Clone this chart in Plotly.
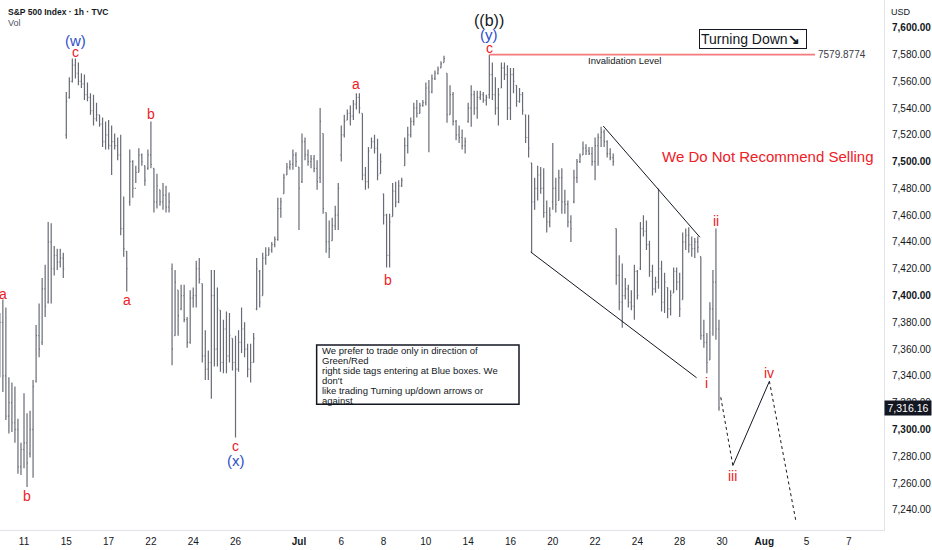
import plotly.graph_objects as go

# trading days shown on the chart (Jun 9 only contributes its last hourly bar)
trading_days = ["Jun 9", "Jun 10", "Jun 11", "Jun 12", "Jun 15", "Jun 16", "Jun 17", "Jun 18",
                "Jun 22", "Jun 23", "Jun 24", "Jun 25", "Jun 26", "Jun 29", "Jun 30", "Jul 1",
                "Jul 2", "Jul 6", "Jul 7", "Jul 8", "Jul 9", "Jul 10", "Jul 13", "Jul 14",
                "Jul 15", "Jul 16", "Jul 17", "Jul 20", "Jul 21", "Jul 22", "Jul 23", "Jul 24",
                "Jul 27", "Jul 28", "Jul 29"]
future_days = ["Jul 30", "Jul 31", "Aug 3", "Aug 4", "Aug 5", "Aug 6", "Aug 7"]

tick_days = ["Jun 11", "Jun 15", "Jun 17", "Jun 22", "Jun 24", "Jun 26", "Jul 1", "Jul 6", "Jul 8",
             "Jul 10", "Jul 14", "Jul 16", "Jul 20", "Jul 22", "Jul 24", "Jul 28", "Jul 30",
             "Aug 3", "Aug 5", "Aug 7"]
tick_text = ["11", "15", "17", "22", "24", "26", "<b>Jul</b>", "6", "8", "10", "14", "16", "20",
             "22", "24", "28", "30", "<b>Aug</b>", "5", "7"]

price_ticks = list(range(7240, 7601, 20))

# hourly OHLC, 7 bars per day
opens = [7345,
         7380, 7340, 7310, 7320, 7305, 7300, 7272,
         7285, 7290, 7282, 7300, 7336, 7370, 7365,
         7405, 7395, 7440, 7420, 7430, 7425, 7428,
         7520, 7548, 7560, 7572, 7566, 7560, 7558,
         7550, 7548, 7538, 7532, 7535, 7528, 7515,
         7520, 7512, 7515, 7512, 7505, 7450, 7433,
         7470, 7500, 7480, 7492, 7505, 7497, 7495,
         7505, 7495, 7470, 7479, 7470, 7475, 7466,
         7420, 7370, 7404, 7390, 7400, 7382, 7365,
         7398, 7400, 7420, 7409, 7355, 7345, 7350,
         7400, 7360, 7389, 7350, 7375, 7355, 7368,
         7350, 7345, 7365, 7375, 7360, 7345, 7350,
         7390, 7418, 7400, 7428, 7430, 7434, 7438,
         7442, 7465, 7476, 7490, 7496, 7498, 7505,
         7496, 7485, 7515, 7505, 7500, 7502, 7495,
         7488, 7521, 7462, 7440, 7441, 7452, 7460,
         7505, 7520, 7531, 7536, 7534, 7543, 7548,
         7536, 7490, 7485, 7510, 7515, 7510, 7491,
         7476, 7460, 7430, 7459, 7478, 7470, 7482,
         7497, 7512, 7520, 7530, 7540, 7536, 7542,
         7544, 7555, 7552, 7562, 7566, 7570, 7574,
         7566, 7535, 7550, 7530, 7520, 7518, 7512,
         7530, 7540, 7550, 7540, 7548, 7550, 7546,
         7550, 7565, 7550, 7540, 7555, 7570, 7565,
         7540, 7565, 7557, 7545, 7550, 7535, 7518,
         7499, 7470, 7480, 7490, 7480, 7462, 7455,
         7470, 7480, 7471, 7488, 7470, 7468, 7455,
         7470, 7488, 7500, 7505, 7510, 7508, 7506,
         7500, 7512, 7518, 7522, 7515, 7506, 7503,
         7450, 7415, 7395, 7400, 7405, 7395, 7392,
         7418, 7420, 7450, 7448, 7438, 7418, 7405,
         7410, 7420, 7395, 7406, 7390, 7402, 7418,
         7410, 7397, 7440, 7445, 7438, 7435, 7440,
         7429, 7370, 7365, 7352, 7390, 7410, 7375]
highs = [7387,
         7397, 7391, 7339, 7335, 7332, 7308, 7290,
         7327, 7312, 7314, 7337, 7378, 7394, 7413,
         7423, 7455, 7454, 7437, 7435, 7435, 7432,
         7552, 7563, 7577, 7577, 7574, 7566, 7565,
         7559, 7551, 7550, 7544, 7535, 7533, 7530,
         7531, 7527, 7521, 7518, 7520, 7474, 7433,
         7509, 7501, 7497, 7510, 7506, 7497, 7509,
         7530, 7495, 7491, 7479, 7484, 7482, 7477,
         7424, 7419, 7404, 7408, 7408, 7384, 7404,
         7406, 7426, 7428, 7409, 7374, 7359, 7419,
         7419, 7406, 7389, 7382, 7388, 7387, 7368,
         7370, 7374, 7391, 7380, 7364, 7364, 7372,
         7428, 7419, 7432, 7436, 7436, 7440, 7444,
         7473, 7473, 7491, 7499, 7501, 7509, 7507,
         7496, 7521, 7518, 7509, 7505, 7505, 7501,
         7540, 7521, 7462, 7456, 7458, 7467, 7484,
         7527, 7535, 7539, 7542, 7546, 7551, 7551,
         7536, 7496, 7511, 7518, 7520, 7517, 7506,
         7476, 7461, 7461, 7484, 7485, 7486, 7488,
         7518, 7526, 7533, 7544, 7546, 7544, 7546,
         7559, 7561, 7565, 7568, 7571, 7575, 7579,
         7566, 7557, 7552, 7531, 7527, 7524, 7518,
         7544, 7557, 7553, 7553, 7553, 7552, 7550,
         7579.8774, 7574, 7563, 7555, 7574, 7574, 7572,
         7570, 7570, 7557, 7555, 7552, 7535, 7535,
         7499, 7488, 7497, 7496, 7495, 7471, 7466,
         7514, 7488, 7494, 7495, 7479, 7471, 7460,
         7494, 7502, 7506, 7515, 7513, 7511, 7511,
         7518, 7521, 7526, 7524, 7516, 7510, 7506,
         7450, 7430, 7424, 7413, 7408, 7404, 7423,
         7419, 7455, 7460, 7456, 7441, 7423, 7414,
         7480, 7426, 7417, 7406, 7404, 7421, 7421,
         7417, 7447, 7450, 7451, 7444, 7443, 7444,
         7429, 7382, 7372, 7395, 7419, 7450, 7382]
lows = [7339,
        7328, 7307, 7297, 7298, 7290, 7267, 7266,
        7271, 7257, 7279, 7264, 7335, 7354, 7363,
        7384, 7394, 7394, 7415, 7419, 7421, 7413,
        7517, 7547, 7559, 7562, 7557, 7555, 7546,
        7545, 7535, 7527, 7530, 7526, 7511, 7509,
        7509, 7490, 7509, 7501, 7445, 7429, 7403,
        7467, 7473, 7484, 7492, 7497, 7482, 7494,
        7495, 7462, 7465, 7467, 7464, 7462, 7462,
        7348, 7370, 7370, 7389, 7380, 7361, 7364,
        7391, 7391, 7409, 7350, 7337, 7337, 7323,
        7347, 7347, 7343, 7342, 7342, 7350, 7344,
        7294, 7343, 7357, 7354, 7339, 7335, 7350,
        7389, 7391, 7400, 7423, 7430, 7432, 7436,
        7441, 7458, 7476, 7490, 7494, 7494, 7496,
        7449, 7484, 7501, 7497, 7495, 7492, 7479,
        7484, 7461, 7432, 7428, 7441, 7449, 7449,
        7500, 7518, 7531, 7527, 7531, 7539, 7536,
        7486, 7479, 7480, 7510, 7506, 7486, 7491,
        7453, 7421, 7421, 7459, 7466, 7469, 7481,
        7497, 7506, 7518, 7527, 7533, 7536, 7541,
        7542, 7507, 7551, 7561, 7565, 7570, 7574,
        7529, 7535, 7527, 7516, 7514, 7509, 7506,
        7529, 7526, 7535, 7532, 7546, 7544, 7542,
        7547, 7546, 7535, 7527, 7555, 7561, 7531,
        7531, 7551, 7541, 7544, 7535, 7514, 7503,
        7432, 7464, 7471, 7476, 7458, 7447, 7451,
        7464, 7462, 7471, 7461, 7461, 7451, 7440,
        7469, 7484, 7499, 7505, 7505, 7505, 7497,
        7486, 7497, 7511, 7511, 7503, 7501, 7497,
        7408, 7389, 7376, 7397, 7391, 7389, 7382,
        7397, 7419, 7444, 7434, 7414, 7400, 7402,
        7405, 7388, 7387, 7383, 7385, 7402, 7404,
        7384, 7397, 7434, 7432, 7429, 7428, 7432,
        7367, 7361, 7342, 7352, 7370, 7367, 7314]
closes = [7380,
          7340, 7310, 7320, 7305, 7300, 7272, 7285,
          7290, 7275, 7300, 7332, 7370, 7360, 7405,
          7392, 7440, 7420, 7430, 7425, 7428, 7420,
          7545, 7560, 7572, 7566, 7560, 7558, 7550,
          7548, 7538, 7532, 7535, 7528, 7515, 7520,
          7512, 7515, 7512, 7505, 7450, 7435, 7420,
          7500, 7480, 7492, 7505, 7500, 7486, 7505,
          7498, 7470, 7482, 7470, 7475, 7466, 7470,
          7360, 7410, 7385, 7400, 7382, 7365, 7398,
          7400, 7420, 7412, 7355, 7345, 7350, 7400,
          7360, 7390, 7350, 7375, 7355, 7370, 7350,
          7345, 7365, 7375, 7360, 7345, 7350, 7368,
          7420, 7395, 7428, 7430, 7434, 7438, 7442,
          7465, 7470, 7488, 7496, 7498, 7505, 7500,
          7480, 7515, 7505, 7500, 7502, 7495, 7485,
          7530, 7465, 7440, 7435, 7452, 7460, 7480,
          7520, 7530, 7536, 7534, 7543, 7548, 7540,
          7490, 7485, 7508, 7515, 7510, 7490, 7500,
          7460, 7430, 7455, 7478, 7470, 7482, 7486,
          7512, 7520, 7530, 7540, 7536, 7542, 7544,
          7555, 7552, 7562, 7566, 7569, 7573, 7577,
          7535, 7550, 7530, 7520, 7518, 7512, 7515,
          7540, 7550, 7540, 7548, 7550, 7546, 7548,
          7565, 7550, 7540, 7550, 7570, 7565, 7540,
          7565, 7560, 7545, 7550, 7538, 7518, 7510,
          7470, 7480, 7490, 7480, 7462, 7455, 7460,
          7480, 7468, 7488, 7470, 7468, 7455, 7450,
          7488, 7500, 7504, 7510, 7508, 7506, 7500,
          7512, 7518, 7522, 7515, 7506, 7503, 7500,
          7415, 7395, 7400, 7405, 7395, 7392, 7418,
          7400, 7450, 7448, 7438, 7418, 7405, 7410,
          7420, 7395, 7410, 7390, 7400, 7418, 7410,
          7390, 7440, 7445, 7438, 7435, 7440, 7436,
          7370, 7365, 7350, 7390, 7410, 7375, 7316.16]

# wave labels: text, day, hourly slot, anchored at bar high or low
label_text = ["a", "b", "c", "(w)", "a", "b", "c", "(x)", "a", "b", "c", "(y)", "((b))", "i", "ii"]
label_day = ["Jun 10", "Jun 11", "Jun 15", "Jun 15", "Jun 17", "Jun 22", "Jun 26", "Jun 26",
             "Jul 6", "Jul 8", "Jul 15", "Jul 15", "Jul 15", "Jul 29", "Jul 29"]
label_slot = [0, 1, 3, 3, 6, 0, 0, 0, 5, 1, 0, 0, 0, 2, 5]
label_side = ["high", "low", "high", "high", "low", "high", "low", "low",
              "high", "low", "high", "high", "high", "low", "high"]

# projected path iii / iv
proj_day = ["Jul 29", "Jul 30", "Aug 3", "Aug 4"]
proj_slot = [6.6, 3.6, 1.7, 3.5]
proj_price = [7324, 7273, 7336, 7231]

# wedge lines
upper_day = ["Jul 22", "Jul 28"]
upper_slot = [2.7, 6.7]
upper_price = [7526.6, 7443.5]
lower_day = ["Jul 16", "Jul 28"]
lower_slot = [6.7, 5.6]
lower_price = [7432.5, 7338.6]

inval_price = 7579.8774
inval_day = ["Jul 15", "Aug 5"]
inval_slot = [0, 2.8]

note_lines = ["We prefer to trade only in direction of", "Green/Red",
              "right side tags entering at Blue boxes. We", "don't",
              "like trading Turning up/down arrows or", "against"]

RED = "#ee2027"
BLUE = "#2f4fc9"
INK = "#131722"
FONT = "Liberation Sans, Arial, sans-serif"

day_pos = {d: i for i, d in enumerate(trading_days + future_days)}


def xpos(day, slot):
    return day_pos[day] + slot / 7


bar_x = [6 / 7] + [d + k / 7 for d in range(1, len(trading_days)) for k in range(7)]


def bar_index(day, slot):
    return 1 + (day_pos[day] - 1) * 7 + slot


fig = go.Figure()
fig.add_trace(go.Ohlc(x=bar_x, open=opens, high=highs, low=lows, close=closes,
                      increasing=dict(line=dict(color="#696c76", width=1.2)),
                      decreasing=dict(line=dict(color="#696c76", width=1.2)),
                      tickwidth=0.3, hoverinfo="skip", showlegend=False))

# invalidation level
fig.add_trace(go.Scatter(x=[xpos(d, s) for d, s in zip(inval_day, inval_slot)],
                         y=[inval_price, inval_price], mode="lines",
                         line=dict(color="#f47a7e", width=1.6), hoverinfo="skip", showlegend=False))

# wedge
for dd, ss, pp in [(upper_day, upper_slot, upper_price), (lower_day, lower_slot, lower_price)]:
    fig.add_trace(go.Scatter(x=[xpos(d, s) for d, s in zip(dd, ss)], y=pp, mode="lines",
                             line=dict(color=INK, width=1), hoverinfo="skip", showlegend=False))

# projection
px_ = [xpos(d, s) for d, s in zip(proj_day, proj_slot)]
for i, dash in enumerate(["3px,3px", "solid", "3px,3px"]):
    fig.add_trace(go.Scatter(x=px_[i:i + 2], y=proj_price[i:i + 2], mode="lines",
                             line=dict(color=INK, width=1, dash=dash),
                             hoverinfo="skip", showlegend=False))

ann = []
label_color = [RED, RED, RED, BLUE, RED, RED, RED, BLUE, RED, RED, RED, BLUE, INK, RED, RED]
label_gap = [6, 9, 7, 18, 8, 7, 9, 23, 9, 13, 7, 20, 34, 10, 8]
label_size = [14, 14, 14, 15, 14, 14, 14, 15, 14, 14, 14, 15, 16, 14, 14]
for t, d, s, side, c, g, fs in zip(label_text, label_day, label_slot, label_side,
                                   label_color, label_gap, label_size):
    i = bar_index(d, s)
    y = highs[i] if side == "high" else lows[i]
    ann.append(dict(x=bar_x[i], y=y, text=t, showarrow=False, xanchor="center", yanchor="middle",
                    yshift=g if side == "high" else -g, xshift=1.5 if t == "b" and d == "Jul 8" else 0,
                    font=dict(color=c, size=fs, family=FONT)))

ann.append(dict(x=px_[1], y=proj_price[1], text="iii", showarrow=False, xanchor="center",
                yanchor="middle", yshift=-10, font=dict(color=RED, size=14, family=FONT)))
ann.append(dict(x=px_[2], y=proj_price[2], text="iv", showarrow=False, xanchor="center",
                yanchor="middle", yshift=8, font=dict(color=RED, size=14, family=FONT)))

ann.append(dict(x=xpos(inval_day[1], inval_slot[1]), y=inval_price, text="7579.8774",
                showarrow=False, xanchor="left", xshift=1, yanchor="middle",
                font=dict(color="#3a3d46", size=10, family=FONT)))
ann.append(dict(xref="paper", yref="paper", x=0.706, y=0.885, text="Invalidation Level",
                showarrow=False, xanchor="center", yanchor="middle",
                font=dict(color=INK, size=9.5, family=FONT)))
ann.append(dict(xref="paper", yref="paper", x=0.852, y=0.926, text="Turning Down<b>↘</b>",
                showarrow=False, xanchor="center", yanchor="middle",
                bordercolor=INK, borderwidth=1, borderpad=1, width=104,
                align="left", font=dict(color=INK, size=14, family=FONT)))
ann.append(dict(xref="paper", yref="paper", x=0.868, y=0.704, text="We Do Not Recommend Selling",
                showarrow=False, xanchor="center", yanchor="middle",
                font=dict(color=RED, size=15, family=FONT)))

for k, line in enumerate(note_lines):
    ann.append(dict(xref="paper", yref="paper", x=0.3615, y=1 - (350.7 + 10 * k) / 530,
                    text=line, showarrow=False, xanchor="left", yanchor="middle",
                    font=dict(color=INK, size=9.5, family=FONT)))

ann.append(dict(xref="paper", yref="paper", x=0.0068, y=0.978, text="S&P 500 Index · 1h · TVC",
                showarrow=False, xanchor="left", yanchor="middle",
                font=dict(color=INK, size=8.5, family=FONT, weight=600)))
ann.append(dict(xref="paper", yref="paper", x=0.0068, y=0.956, text="Vol",
                showarrow=False, xanchor="left", yanchor="middle",
                font=dict(color="#50535e", size=9, family=FONT)))
ann.append(dict(xref="paper", yref="paper", x=1.006, y=0.977, text="USD",
                showarrow=False, xanchor="left", yanchor="middle",
                font=dict(color=INK, size=9, family=FONT)))
ann.append(dict(xref="paper", x=1.0, y=closes[-1], text=f"{closes[-1]:,.2f}", showarrow=False,
                xanchor="left", yanchor="middle", bgcolor=INK, width=44, borderpad=1,
                font=dict(color="white", size=10.5, family=FONT)))

shapes = [dict(type="rect", xref="paper", yref="paper", x0=0.3582, x1=0.5871, y0=0.2372, y1=0.349,
               line=dict(color=INK, width=1.5))]

price_text = [f"<b>{p:,.2f}</b>" if p % 100 == 0 else f"{p:,.2f}" for p in price_ticks]

fig.update_layout(
    width=932, height=550,
    margin=dict(l=0, r=48, t=0, b=20),
    paper_bgcolor="white", plot_bgcolor="white",
    font=dict(family=FONT, color=INK),
    showlegend=False,
    annotations=ann, shapes=shapes,
    xaxis=dict(range=[0.865, 42.66], tickvals=[day_pos[d] for d in tick_days], ticktext=tick_text,
               showgrid=False, zeroline=False, showline=True, linecolor="#e0e3eb", ticks="",
               ticklabelstandoff=2, tickfont=dict(size=10, color=INK),
               rangeslider=dict(visible=False)),
    yaxis=dict(side="right", range=[7224.9, 7620.7], tickvals=price_ticks, ticktext=price_text,
               showgrid=False, zeroline=False, showline=True, linecolor="#e0e3eb", ticks="",
               ticklabelstandoff=5, tickfont=dict(size=10, color=INK)),
)

# drop the browser's default body margin so the 932x550 figure fills the window
fig.write_html("out.html", config={"displayModeBar": False},
               post_script="document.body.style.margin = '0';")
